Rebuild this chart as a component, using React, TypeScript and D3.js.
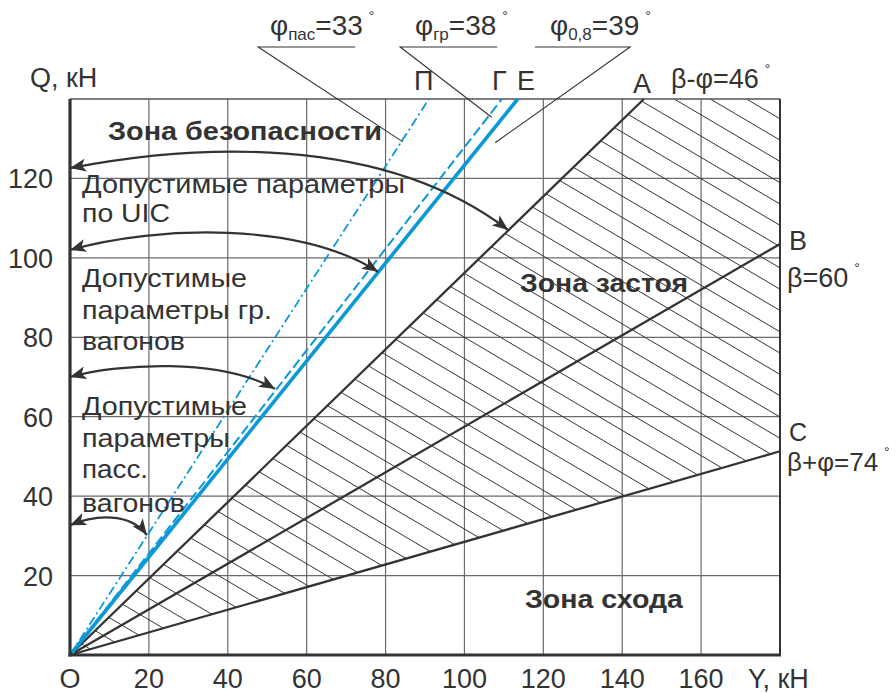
import React, { useEffect, useRef } from 'react';
import * as d3 from 'd3';

const width = 896;
const height = 693;
const margin = { top: 99, right: 116, bottom: 38, left: 70 };

// оси, кН
const xTickValues = [0, 20, 40, 60, 80, 100, 120, 140, 160];
const xTickLabels = ['O', '20', '40', '60', '80', '100', '120', '140', '160'];
const yTickValues = [20, 40, 60, 80, 100, 120];
const gridValuesX = [20, 40, 60, 80, 100, 120, 140, 160];
const gridValuesY = [20, 40, 60, 80, 100, 120];

// лучи из начала координат: конец луча (Y, Q)
const rayNames = ['П', 'Г', 'Е', 'А', 'В', 'С'];
const rayEndY = [91, 109.5, 113.5, 145.5, 180, 180];
const rayEndQ = [140, 140, 140, 140, 103.5, 51.3];

// подписи углов
const phiSubs = ['пас', 'гр', '0,8'];
const phiValues = [33, 38, 39];
const phiLeaders = [
  [[72.3, 153.1], [47.7, 153.1], [84.4, 129.2]],
  [[108.3, 153.1], [83.7, 153.1], [106.9, 135.4]],
  [[117.9, 153.1], [142, 153.1], [107.8, 129]],
];
const betaLabels = ['β-φ=46', 'β=60', 'β+φ=74'];

// двусторонние стрелки (кубические кривые в кН)
const arrowCurves = [
  [[0, 122.6], [30.4, 128.4], [78.6, 131.7], [111.1, 107.0]],
  [[0, 102.0], [22.8, 108.3], [58.3, 109.0], [78.1, 96.5]],
  [[0, 70.0], [12.7, 73.5], [38.0, 74.8], [52.0, 67.0]],
  [[0, 32.7], [6.3, 35.3], [15.2, 36.0], [19.5, 30.2]],
];

const textDark = '#333';
const blue = '#0a98d6';
const font = "'Liberation Sans', Arial, sans-serif";

export default function App() {
  const ref = useRef<SVGSVGElement>(null);

  useEffect(() => {
    const svg = d3.select(ref.current);
    svg.selectAll('*').remove();

    const x = d3.scaleLinear().domain([0, 180]).range([margin.left, width - margin.right]);
    const y = d3.scaleLinear().domain([0, 140]).range([height - margin.bottom, margin.top]);

    const defs = svg.append('defs');
    defs.append('marker')
      .attr('id', 'arr')
      .attr('viewBox', '0 0 16 13')
      .attr('markerUnits', 'userSpaceOnUse')
      .attr('markerWidth', 16)
      .attr('markerHeight', 13)
      .attr('refX', 16)
      .attr('refY', 6.5)
      .attr('orient', 'auto-start-reverse')
      .append('path')
      .attr('d', 'M0,0 L16,6.5 L0,13 L4,6.5 Z')
      .attr('fill', textDark);

    const poly = [[0, 0], [rayEndY[3], rayEndQ[3]], [180, 140], [rayEndY[5], rayEndQ[5]]];
    defs.append('clipPath').attr('id', 'hatchClip')
      .append('polygon')
      .attr('points', poly.map(p => `${x(p[0])},${y(p[1])}`).join(' '));

    // сетка
    const g = svg.append('g');
    g.selectAll('.gx').data(gridValuesX).join('line')
      .attr('x1', d => x(d)).attr('x2', d => x(d))
      .attr('y1', y(0)).attr('y2', y(140))
      .attr('stroke', '#6b6b6b').attr('stroke-width', 1.2);
    g.selectAll('.gy').data(gridValuesY).join('line')
      .attr('x1', x(0)).attr('x2', x(180))
      .attr('y1', d => y(d)).attr('y2', d => y(d))
      .attr('stroke', '#6b6b6b').attr('stroke-width', 1.2);

    // штриховка зоны застоя
    const slope = 0.59;
    const step = 21.3;
    const b0 = 417 - slope * (x(180) - x(0));
    const hatch = svg.append('g').attr('clip-path', 'url(#hatchClip)');
    hatch.selectAll('line').data(d3.range(-30, 40)).join('line')
      .attr('x1', x(0)).attr('y1', k => b0 + k * step)
      .attr('x2', x(180)).attr('y2', k => b0 + k * step + slope * (x(180) - x(0)))
      .attr('stroke', textDark).attr('stroke-width', 1);

    // рамка
    svg.append('line').attr('x1', x(0)).attr('x2', x(180)).attr('y1', y(140)).attr('y2', y(140))
      .attr('stroke', '#555').attr('stroke-width', 1.5);
    svg.append('line').attr('x1', x(180)).attr('x2', x(180)).attr('y1', y(140)).attr('y2', y(0))
      .attr('stroke', textDark).attr('stroke-width', 2);

    // лучи А, В, С
    [3, 4, 5].forEach(i => {
      svg.append('line')
        .attr('x1', x(0)).attr('y1', y(0))
        .attr('x2', x(rayEndY[i])).attr('y2', y(rayEndQ[i]))
        .attr('stroke', textDark).attr('stroke-width', 2.3);
    });

    // лучи П, Г, Е
    const blueStyles = [
      { w: 1.8, dash: '9,3.5,2,3.5' },
      { w: 2, dash: '10,4' },
      { w: 3.6, dash: null },
    ];
    [0, 1, 2].forEach(i => {
      const l = svg.append('line')
        .attr('x1', x(0)).attr('y1', y(0))
        .attr('x2', x(rayEndY[i])).attr('y2', y(rayEndQ[i]))
        .attr('stroke', blue).attr('stroke-width', blueStyles[i].w);
      if (blueStyles[i].dash) l.attr('stroke-dasharray', blueStyles[i].dash);
    });

    // оси
    svg.append('line').attr('x1', x(0)).attr('x2', x(0)).attr('y1', y(140)).attr('y2', y(0) + 1.5)
      .attr('stroke', textDark).attr('stroke-width', 3.2);
    svg.append('line').attr('x1', x(0) - 1.5).attr('x2', x(180) + 1).attr('y1', y(0)).attr('y2', y(0))
      .attr('stroke', textDark).attr('stroke-width', 3.2);

    // стрелки
    arrowCurves.forEach(c => {
      const p = d3.path();
      p.moveTo(x(c[0][0]), y(c[0][1]));
      p.bezierCurveTo(x(c[1][0]), y(c[1][1]), x(c[2][0]), y(c[2][1]), x(c[3][0]), y(c[3][1]));
      svg.append('path').attr('d', p.toString())
        .attr('fill', 'none').attr('stroke', textDark).attr('stroke-width', 2.2)
        .attr('marker-start', 'url(#arr)').attr('marker-end', 'url(#arr)');
    });

    // выноски φ
    phiLeaders.forEach(pts => {
      svg.append('path')
        .attr('d', d3.line()(pts.map(p => [x(p[0]), y(p[1])]) as [number, number][]))
        .attr('fill', 'none').attr('stroke', textDark).attr('stroke-width', 1.1);
    });

    const txt = (tx: number, ty: number, s: string, size = 27, anchor = 'start') =>
      svg.append('text').attr('x', tx).attr('y', ty).text(s)
        .attr('font-family', font).attr('font-size', size)
        .attr('fill', textDark).attr('text-anchor', anchor);

    // подписи шкал
    xTickValues.forEach((v, i) => txt(x(v), 688, xTickLabels[i], 27, 'middle'));
    yTickValues.forEach(v => txt(53, y(v) + 10, String(v), 27, 'end'));
    txt(30, 87, 'Q, кН');
    txt(748, 688, 'Y, кН');

    // подписи лучей
    txt(414, 90, rayNames[0]);
    txt(492, 90, rayNames[1]);
    txt(517, 90, rayNames[2]);
    txt(633, 93, rayNames[3]);
    txt(789, 250, rayNames[4]);
    txt(789, 441, rayNames[5], 25);

    const deg = (tx: number, ty: number, s: string, size = 27) => {
      const t = txt(tx, ty, s, size);
      t.append('tspan').attr('font-size', 14).attr('dx', 6).attr('dy', -14).text('°');
    };
    deg(671, 88, betaLabels[0]);
    deg(787, 287, betaLabels[1]);
    deg(787, 471, betaLabels[2], 26);

    const phiX = [270, 415, 550];
    phiValues.forEach((v, i) => {
      const t = txt(phiX[i], 35, 'φ', 28);
      t.append('tspan').attr('font-size', 17).attr('dy', 5).text(phiSubs[i]);
      t.append('tspan').attr('dy', -5).text('=' + v);
      t.append('tspan').attr('font-size', 14).attr('dx', 6).attr('dy', -14).text('°');
    });

    // зоны
    const bold = (tx: number, ty: number, s: string, w: number) =>
      txt(tx, ty, s, 26).attr('font-weight', 'bold')
        .attr('textLength', w).attr('lengthAdjust', 'spacingAndGlyphs');
    bold(108, 140, 'Зона безопасности', 274);
    bold(520, 292, 'Зона застоя', 168);
    bold(525, 608, 'Зона схода', 158);

    // пояснения
    const note = (ty: number, s: string, w: number) =>
      txt(82, ty, s, 26.5).attr('textLength', w).attr('lengthAdjust', 'spacingAndGlyphs');
    note(193, 'Допустимые параметры', 323);
    note(222, 'по UIC', 88);
    note(287, 'Допустимые', 165);
    note(318.5, 'параметры гр.', 190);
    note(350, 'вагонов', 103);
    note(415, 'Допустимые', 165);
    note(446.5, 'параметры', 148);
    note(478, 'пасс.', 66);
    note(511.5, 'вагонов', 103);
  }, []);

  return (
    <svg ref={ref} width={width} height={height}
      style={{ position: 'absolute', left: 0, top: 0, background: '#fff' }} />
  );
}
